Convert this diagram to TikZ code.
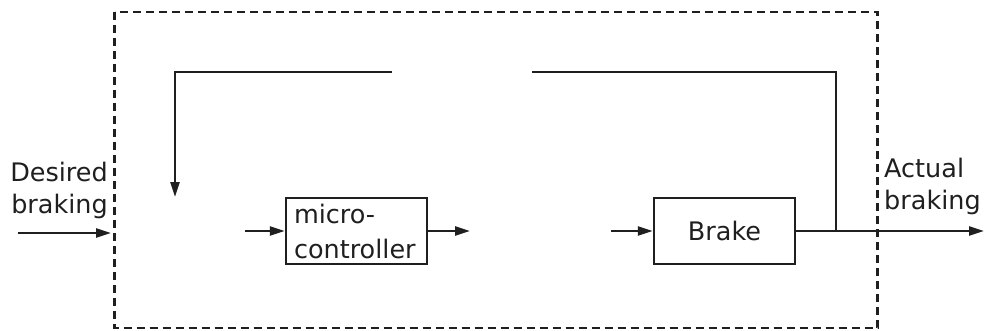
\documentclass[tikz,border=0pt]{standalone}
\usepackage{fontspec}
\setmainfont{DejaVu Sans}
\usetikzlibrary{arrows.meta}
\begin{document}
\begin{tikzpicture}[x=1pt,y=-1pt,
  line/.style={line width=2.5pt, draw=black!88},
  arr/.style={line, -{Triangle[length=15pt,width=9pt]}},
  blk/.style={line, rectangle, inner sep=0pt, font=\fontsize{25.5}{35}\selectfont, text=black!88},
  lbl/.style={inner sep=0pt, font=\fontsize{25.5}{32}\selectfont, text=black!88},
  border/.style={line width=2.2pt, draw=black!88, dash pattern=on 8pt off 5pt}]
\useasboundingbox (0,0) rectangle (984,331);
% dashed system boundary
\coordinate (bTL) at (114.5,12);
\coordinate (bBR) at (877.5,328);
\draw[border] (bTL) rectangle (bBR);
% blocks
\node[blk, draw, minimum width=141pt, minimum height=66pt, text width=125pt, align=left] (mc) at (356.5,231) {micro-\\controller};
\node[blk, draw, minimum width=141pt, minimum height=66pt] (brake) at (724.5,231) {Brake};
% labels
\node[lbl, anchor=north east, align=right] (desired) at (108,162) {Desired\\braking};
\node[lbl, anchor=north west, align=left] (actual) at (884,158) {Actual\\braking};
% coordinates
\coordinate (inL) at (18,233);
\coordinate (inR) at (111,233);
\coordinate (mcIn) at (245,231);
\coordinate (mcOut) at (470,231);
\coordinate (brIn) at (611,231);
\coordinate (outR) at (984,231);
\coordinate (tap) at (836,231);
\coordinate (fbB) at (532,72);
\coordinate (fbA) at (392,72);
\coordinate (fbEnd) at (175,197);
% connectors
\draw[arr] (inL) -- (inR);
\draw[arr] (mcIn) -- (mc.west);
\draw[arr] (mc.east) -- (mcOut);
\draw[arr] (brIn) -- (brake.west);
\draw[arr] (brake.east) -- (outR);
\draw[line] (tap) |- (fbB);
\draw[arr] (fbA) -| (fbEnd);
\end{tikzpicture}
\end{document}
